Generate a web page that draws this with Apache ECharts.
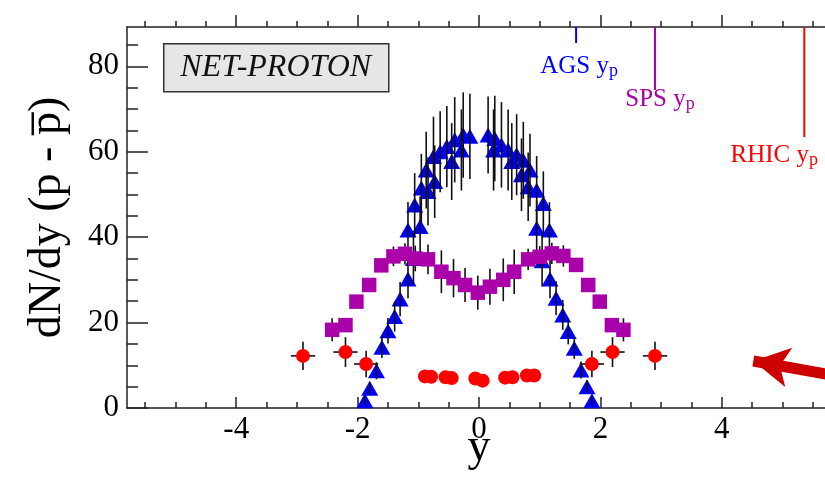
<!DOCTYPE html>
<html>
<head>
<meta charset="utf-8">
<script src="https://cdn.jsdelivr.net/npm/echarts@6/dist/echarts.min.js"></script>
<style>
  html, body { margin: 0; padding: 0; background: #fff; }
  #chart { width: 825px; height: 477px; }
</style>
</head>
<body>
<div id="chart"></div>
<script>
// AGS net protons: [rapidity, dN/dy, error]
const agsPoints = [
  [-1.88, 1.7, 1.0], [-1.80, 4.6, 1.5], [-1.69, 8.7, 2.0], [-1.60, 14.2, 2.5],
  [-1.50, 18.1, 3.0], [-1.39, 21.4, 3.5], [-1.30, 25.5, 4.0], [-1.17, 30.2, 4.5],
  [-1.08, 35.0, 6.0], [-1.17, 41.7, 6.5], [-0.97, 42.5, 7.0], [-1.06, 47.5, 7.5],
  [-0.95, 51.5, 8.0], [-0.84, 50.7, 8.0], [-0.87, 55.7, 9.0], [-0.73, 53.0, 8.5],
  [-0.75, 58.9, 9.3], [-0.64, 60.0, 9.5], [-0.53, 61.2, 9.5], [-0.45, 57.7, 9.0],
  [-0.40, 62.8, 10.0], [-0.29, 60.4, 9.5], [-0.26, 63.9, 10.0], [-0.15, 63.6, 10.0],
  [0.15, 63.9, 9.0], [0.26, 63.1, 10.0], [0.24, 60.4, 9.5], [0.37, 61.6, 10.0],
  [0.48, 60.4, 9.5], [0.54, 57.7, 9.0], [0.62, 59.3, 9.5], [0.73, 58.0, 9.0],
  [0.70, 54.6, 8.5], [0.84, 55.7, 8.5], [0.81, 51.8, 8.0], [0.95, 51.0, 8.0],
  [1.06, 47.9, 7.5], [0.95, 42.1, 6.5], [1.16, 41.7, 6.5], [1.04, 34.5, 6.0],
  [1.17, 30.2, 4.5], [1.27, 25.7, 4.0], [1.38, 21.8, 3.5], [1.47, 17.9, 3.0],
  [1.57, 14.0, 2.5], [1.68, 8.9, 2.0], [1.78, 5.0, 1.5], [1.86, 1.7, 1.0]
];
// SPS net protons: [rapidity, dN/dy, error]
const spsPoints = [
  [-2.42, 18.3, 2.7], [-2.20, 19.4, 0], [-2.02, 24.9, 0], [-1.81, 28.8, 0],
  [-1.61, 33.4, 0], [-1.41, 35.5, 2.3], [-1.22, 36.1, 2.5], [-1.05, 35.0, 3.0],
  [-0.84, 34.8, 3.5], [-0.62, 31.9, 5.0], [-0.42, 30.4, 4.5], [-0.23, 28.8, 4.0],
  [-0.02, 27.0, 4.0], [0.18, 28.4, 4.2], [0.40, 30.0, 5.0], [0.58, 31.9, 5.2],
  [0.81, 34.8, 2.5], [1.00, 35.4, 2.5], [1.20, 36.2, 2.5], [1.39, 35.6, 2.5],
  [1.60, 33.5, 0], [1.80, 28.8, 0], [1.99, 24.9, 0], [2.19, 19.4, 0], [2.38, 18.3, 2.7]
];
// RHIC net protons: [rapidity, dN/dy, x error, y error]
const rhicPoints = [
  [-2.90, 12.2, 0.2, 3.3], [-2.20, 13.1, 0.2, 3.5], [-1.86, 10.3, 0.2, 3.1],
  [-0.89, 7.4, 0, 0], [-0.79, 7.3, 0, 0], [-0.55, 7.2, 0, 0], [-0.45, 7.0, 0, 0],
  [-0.06, 6.9, 0, 0], [0.06, 6.4, 0, 0], [0.43, 7.1, 0, 0], [0.55, 7.2, 0, 0],
  [0.79, 7.6, 0, 0], [0.91, 7.6, 0, 0],
  [1.86, 10.3, 0.2, 3.1], [2.20, 13.1, 0.2, 3.5], [2.90, 12.2, 0.2, 3.3]
];
// beam rapidities
const beamNames = ['AGS', 'SPS', 'RHIC'];
const beamRapidity = [1.6, 2.9, 5.36];

const xMajorTicks = [-4, -2, 0, 2, 4];
const xMinorTicks = [-5.5, -5, -4.5, -3.5, -3, -2.5, -1.5, -1, -0.5, 0.5, 1, 1.5, 2.5, 3, 3.5, 4.5, 5, 5.5];
const yMajorTicks = [0, 20, 40, 60, 80];
const yMinorTicks = [5, 10, 15, 25, 30, 35, 45, 50, 55, 65, 70, 75, 85];

const X_MIN = -5.8, X_MAX = 5.8, Y_MIN = 0, Y_MAX = 89.2;
const serif = '"Liberation Serif", "Times New Roman", serif';
const axisColor = '#222';

const chart = echarts.init(document.getElementById('chart'), null, { renderer: 'canvas' });

function xAxisDef(position, ticks, len, inside, showLine, labels) {
  return {
    type: 'value', min: X_MIN, max: X_MAX, position: position,
    axisLine: { show: showLine, onZero: false, lineStyle: { color: axisColor, width: 1.5 } },
    axisTick: { show: true, inside: inside, length: len, customValues: ticks, lineStyle: { color: axisColor, width: 1.5 } },
    axisLabel: labels ? {
      show: true, customValues: labels, margin: 6,
      fontFamily: serif, fontSize: 31, color: '#000'
    } : { show: false },
    splitLine: { show: false }
  };
}
function yAxisDef(ticks, len, showLine, labels) {
  return {
    type: 'value', min: Y_MIN, max: Y_MAX, position: 'left',
    axisLine: { show: showLine, onZero: false, lineStyle: { color: axisColor, width: 1.5 } },
    axisTick: { show: true, inside: true, length: len, customValues: ticks, lineStyle: { color: axisColor, width: 1.5 } },
    axisLabel: labels ? {
      show: true, customValues: labels, margin: 8,
      fontFamily: serif, fontSize: 31, color: '#000'
    } : { show: false },
    splitLine: { show: false }
  };
}

const bottomMajor = xAxisDef('bottom', xMajorTicks, 11, true, true, xMajorTicks);
bottomMajor.name = 'y';
bottomMajor.nameLocation = 'middle';
bottomMajor.nameGap = 17;
bottomMajor.nameMoveOverlap = false;
bottomMajor.nameTextStyle = { fontFamily: serif, fontSize: 46, color: '#000' };

const leftMajor = yAxisDef(yMajorTicks, 21, true, yMajorTicks);
leftMajor.name = 'dN/dy (p - p\u0305)';
leftMajor.nameLocation = 'middle';
leftMajor.nameRotate = 90;
leftMajor.nameGap = 56;
leftMajor.nameMoveOverlap = false;
leftMajor.nameTextStyle = { fontFamily: serif, fontSize: 46, color: '#000' };

function errorBars(points, z, withX) {
  return {
    type: 'custom', z: z, silent: true, xAxisIndex: 0, yAxisIndex: 0,
    data: points,
    renderItem: function (params, api) {
      const x = api.value(0), y = api.value(1);
      const ey = withX ? api.value(3) : api.value(2);
      const ex = withX ? api.value(2) : 0;
      const children = [];
      if (ey > 0) {
        const a = api.coord([x, y + ey]), b = api.coord([x, y - ey]);
        children.push({ type: 'line', shape: { x1: a[0], y1: a[1], x2: b[0], y2: b[1] },
          style: { stroke: '#111', lineWidth: 1.6 } });
      }
      if (ex > 0) {
        const a = api.coord([x - ex, y]), b = api.coord([x + ex, y]);
        children.push({ type: 'line', shape: { x1: a[0], y1: a[1], x2: b[0], y2: b[1] },
          style: { stroke: '#111', lineWidth: 1.6 } });
      }
      return { type: 'group', children: children };
    }
  };
}

// beam rapidity markers hanging from the top axis
const beamColors = ['#0000ff', '#aa00aa', '#ff0000'];
const beamLineLen = [16, 63, 110];
const beamLabelDx = [3, 5, -30];
const beamLabelDy = [27, 60, 116];

const beamSeries = {
  type: 'custom', z: 10, silent: true, xAxisIndex: 0, yAxisIndex: 0,
  clip: false,
  data: beamRapidity.map(function (v, i) { return [v, i]; }),
  renderItem: function (params, api) {
    const i = api.value(1);
    const top = api.coord([api.value(0), Y_MAX]);
    return {
      type: 'group',
      children: [
        { type: 'line', shape: { x1: top[0], y1: top[1], x2: top[0], y2: top[1] + beamLineLen[i] },
          style: { stroke: beamColors[i], lineWidth: 2 } },
        { type: 'text', x: top[0] + beamLabelDx[i], y: top[1] + beamLabelDy[i],
          style: {
            text: '{m|' + beamNames[i] + ' y}{s|p}',
            align: 'center', verticalAlign: 'top',
            fill: beamColors[i],
            rich: {
              m: { fontFamily: serif, fontSize: 25, lineHeight: 24, verticalAlign: 'top', fill: beamColors[i] },
              s: { fontFamily: serif, fontSize: 18, lineHeight: 34, fill: beamColors[i] }
            }
          } }
      ]
    };
  }
};

const option = {
  animation: false,
  backgroundColor: '#fff',
  grid: { left: 127, right: -6, top: 27, bottom: 69, containLabel: false, outerBoundsMode: 'none' },
  xAxis: [
    bottomMajor,
    xAxisDef('bottom', xMinorTicks, 6, true, false, null),
    xAxisDef('top', xMajorTicks, 12, false, true, null),
    xAxisDef('top', xMinorTicks, 6, false, false, null)
  ],
  yAxis: [
    leftMajor,
    yAxisDef(yMinorTicks, 11, false, null)
  ],
  graphic: [{
    type: 'group', left: 163, top: 43,
    children: [
      { type: 'rect', shape: { x: 0, y: 0, width: 225, height: 48 },
        style: { fill: '#e6e6e6', stroke: '#333', lineWidth: 1.5 } },
      { type: 'text', x: 112, y: 24,
        style: { text: 'NET-PROTON', fill: '#111', font: 'italic 32px ' + serif,
          align: 'center', verticalAlign: 'middle' } }
    ]
  }],
  series: [
    {
      name: 'AGS', type: 'scatter', z: 2, xAxisIndex: 0, yAxisIndex: 0,
      symbol: 'triangle', symbolSize: [17, 15],
      itemStyle: { color: '#0000ff', opacity: 1 },
      data: agsPoints
    },
    errorBars(agsPoints, 3, false),
    errorBars(spsPoints, 4, false),
    {
      name: 'SPS', type: 'scatter', z: 5, xAxisIndex: 0, yAxisIndex: 0,
      symbol: 'rect', symbolSize: 14.5,
      itemStyle: { color: '#aa00aa', opacity: 1 },
      data: spsPoints
    },
    errorBars(rhicPoints, 6, true),
    {
      name: 'RHIC', type: 'scatter', z: 7, xAxisIndex: 0, yAxisIndex: 0,
      symbol: 'circle', symbolSize: 14,
      itemStyle: { color: '#ff0000', opacity: 1 },
      data: rhicPoints,
      markLine: {
        silent: true, animation: false,
        symbol: ['none', 'arrow'], symbolSize: [30, 36],
        label: { show: false },
        lineStyle: { color: '#cc0000', width: 11, type: 'solid' },
        data: [[{ coord: [5.8, 7.75] }, { coord: [4.52, 11.0] }]]
      }
    },
    beamSeries
  ]
};

chart.setOption(option);
</script>
</body>
</html>
